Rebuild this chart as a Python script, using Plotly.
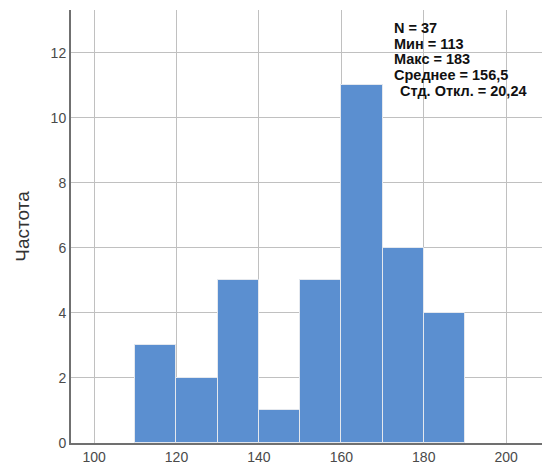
import plotly.graph_objects as go

# Histogram of values, bins of width 10
bin_starts = [110, 120, 130, 140, 150, 160, 170, 180]
counts = [3, 2, 5, 1, 5, 11, 6, 4]
bin_width = 10

x_ticks = [100, 120, 140, 160, 180, 200]
y_ticks = [0, 2, 4, 6, 8, 10, 12]

stats_lines = ["N = 37", "Мин = 113", "Макс = 183", "Среднее = 156,5", "Стд. Откл. = 20,24"]
stats_x = [172.4, 172.4, 172.4, 172.4, 173.8]
stats_y = [12.76, 12.28, 11.80, 11.32, 10.84]

centers = [s + bin_width / 2 for s in bin_starts]

fig = go.Figure()
fig.add_trace(go.Bar(
    x=centers, y=counts, width=[bin_width] * len(counts),
    marker=dict(color="#5b8fd0", line=dict(color="#e4e8ee", width=1)),
    showlegend=False, hoverinfo="skip",
))

for txt, tx, ty in zip(stats_lines, stats_x, stats_y):
    fig.add_annotation(
        x=tx, y=ty, xref="x", yref="y", text=f"<b>{txt}</b>",
        showarrow=False, xanchor="left", yanchor="middle",
        font=dict(family="Liberation Sans, Arial", size=14.5, color="#111111"),
    )

fig.update_layout(
    width=542, height=476,
    margin=dict(l=71, r=0, t=10, b=33),
    paper_bgcolor="white", plot_bgcolor="white",
    bargap=0,
    font=dict(family="Liberation Sans, Arial", size=14, color="#444444"),
    xaxis=dict(
        range=[94.4, 208.7], tickvals=x_ticks, ticks="", showgrid=True,
        gridcolor="#c0c0c0", gridwidth=1, zeroline=False,
        showline=True, linecolor="#707070", linewidth=2,
        tickfont=dict(size=14, color="#4a4a4a"),
    ),
    yaxis=dict(
        range=[0, 13.32], tickvals=y_ticks, ticks="", showgrid=True,
        gridcolor="#c0c0c0", gridwidth=1, zeroline=False,
        showline=True, linecolor="#707070", linewidth=2,
        tickfont=dict(size=14, color="#4a4a4a"),
        title=dict(text="Частота", font=dict(size=19, color="#333333"), standoff=16),
    ),
)

fig.write_html("out.html")
